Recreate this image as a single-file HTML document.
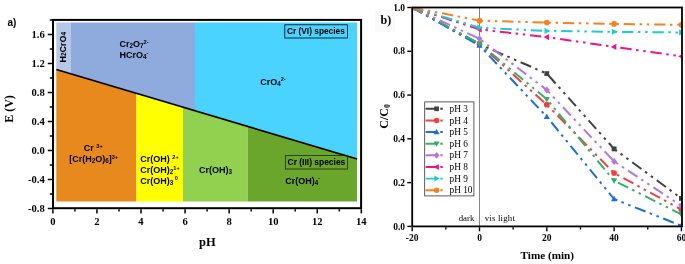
<!DOCTYPE html>
<html lang="en"><head><meta charset="utf-8"><title>Cr speciation and photoreduction</title>
<style>html,body{margin:0;padding:0;background:#fff}body{width:685px;height:264px;overflow:hidden}svg{display:block}.ser{font-family:"Liberation Serif","Times New Roman",serif}.san{font-family:"Liberation Sans",Arial,sans-serif}.b{font-weight:bold}</style></head><body>
<svg width="685" height="264" viewBox="0 0 685 264">
<rect width="685" height="264" fill="#fff"/>
<g id="panel-a">
<polygon points="56.3,22.5 71.0,22.5 71.0,73.87 56.3,69.5" fill="#b5c8e8"/>
<polygon points="71.0,22.5 195.0,22.5 195.0,110.77 71.0,73.87" fill="#8fabdd"/>
<polygon points="195.0,22.5 357.1,22.5 357.1,159.0 195.0,110.77" fill="#4bd3ff"/>
<polygon points="56.3,69.5 136.4,93.33 136.4,201.6 56.3,201.6" fill="#e8891e"/>
<polygon points="136.4,93.33 183.0,107.20 183.0,201.6 136.4,201.6" fill="#ffff00"/>
<polygon points="183.0,107.20 247.6,126.42 247.6,201.6 183.0,201.6" fill="#92d050"/>
<polygon points="247.6,126.42 357.1,159.0 357.1,201.6 247.6,201.6" fill="#6aa52c"/>
<line x1="56.3" y1="69.5" x2="357.1" y2="159.0" stroke="#000" stroke-width="1.8"/>
<rect x="53.0" y="19.9" width="308.1" height="188.29999999999998" fill="none" stroke="#000" stroke-width="2"/>
<line x1="47.8" y1="208.50" x2="52.0" y2="208.50" stroke="#000" stroke-width="1.5"/>
<text x="44.8" y="212.10" text-anchor="end" class="ser b" font-size="10.6">-0.8</text>
<line x1="49.8" y1="194.00" x2="52.0" y2="194.00" stroke="#000" stroke-width="1.5"/>
<line x1="47.8" y1="179.50" x2="52.0" y2="179.50" stroke="#000" stroke-width="1.5"/>
<text x="44.8" y="183.10" text-anchor="end" class="ser b" font-size="10.6">-0.4</text>
<line x1="49.8" y1="165.00" x2="52.0" y2="165.00" stroke="#000" stroke-width="1.5"/>
<line x1="47.8" y1="150.50" x2="52.0" y2="150.50" stroke="#000" stroke-width="1.5"/>
<text x="44.8" y="154.10" text-anchor="end" class="ser b" font-size="10.6">0.0</text>
<line x1="49.8" y1="136.00" x2="52.0" y2="136.00" stroke="#000" stroke-width="1.5"/>
<line x1="47.8" y1="121.50" x2="52.0" y2="121.50" stroke="#000" stroke-width="1.5"/>
<text x="44.8" y="125.10" text-anchor="end" class="ser b" font-size="10.6">0.4</text>
<line x1="49.8" y1="107.00" x2="52.0" y2="107.00" stroke="#000" stroke-width="1.5"/>
<line x1="47.8" y1="92.50" x2="52.0" y2="92.50" stroke="#000" stroke-width="1.5"/>
<text x="44.8" y="96.10" text-anchor="end" class="ser b" font-size="10.6">0.8</text>
<line x1="49.8" y1="78.00" x2="52.0" y2="78.00" stroke="#000" stroke-width="1.5"/>
<line x1="47.8" y1="63.50" x2="52.0" y2="63.50" stroke="#000" stroke-width="1.5"/>
<text x="44.8" y="67.10" text-anchor="end" class="ser b" font-size="10.6">1.2</text>
<line x1="49.8" y1="49.00" x2="52.0" y2="49.00" stroke="#000" stroke-width="1.5"/>
<line x1="47.8" y1="34.50" x2="52.0" y2="34.50" stroke="#000" stroke-width="1.5"/>
<text x="44.8" y="38.10" text-anchor="end" class="ser b" font-size="10.6">1.6</text>
<line x1="49.8" y1="20.00" x2="52.0" y2="20.00" stroke="#000" stroke-width="1.5"/>
<line x1="52.90" y1="209.2" x2="52.90" y2="213.4" stroke="#000" stroke-width="1.5"/>
<text x="52.90" y="224.6" text-anchor="middle" class="ser b" font-size="10.6">0</text>
<line x1="74.93" y1="209.2" x2="74.93" y2="211.4" stroke="#000" stroke-width="1.5"/>
<line x1="96.96" y1="209.2" x2="96.96" y2="213.4" stroke="#000" stroke-width="1.5"/>
<text x="96.96" y="224.6" text-anchor="middle" class="ser b" font-size="10.6">2</text>
<line x1="118.99" y1="209.2" x2="118.99" y2="211.4" stroke="#000" stroke-width="1.5"/>
<line x1="141.02" y1="209.2" x2="141.02" y2="213.4" stroke="#000" stroke-width="1.5"/>
<text x="141.02" y="224.6" text-anchor="middle" class="ser b" font-size="10.6">4</text>
<line x1="163.05" y1="209.2" x2="163.05" y2="211.4" stroke="#000" stroke-width="1.5"/>
<line x1="185.08" y1="209.2" x2="185.08" y2="213.4" stroke="#000" stroke-width="1.5"/>
<text x="185.08" y="224.6" text-anchor="middle" class="ser b" font-size="10.6">6</text>
<line x1="207.11" y1="209.2" x2="207.11" y2="211.4" stroke="#000" stroke-width="1.5"/>
<line x1="229.14" y1="209.2" x2="229.14" y2="213.4" stroke="#000" stroke-width="1.5"/>
<text x="229.14" y="224.6" text-anchor="middle" class="ser b" font-size="10.6">8</text>
<line x1="251.17" y1="209.2" x2="251.17" y2="211.4" stroke="#000" stroke-width="1.5"/>
<line x1="273.20" y1="209.2" x2="273.20" y2="213.4" stroke="#000" stroke-width="1.5"/>
<text x="273.20" y="224.6" text-anchor="middle" class="ser b" font-size="10.6">10</text>
<line x1="295.23" y1="209.2" x2="295.23" y2="211.4" stroke="#000" stroke-width="1.5"/>
<line x1="317.26" y1="209.2" x2="317.26" y2="213.4" stroke="#000" stroke-width="1.5"/>
<text x="317.26" y="224.6" text-anchor="middle" class="ser b" font-size="10.6">12</text>
<line x1="339.29" y1="209.2" x2="339.29" y2="211.4" stroke="#000" stroke-width="1.5"/>
<line x1="361.32" y1="209.2" x2="361.32" y2="213.4" stroke="#000" stroke-width="1.5"/>
<text x="361.32" y="224.6" text-anchor="middle" class="ser b" font-size="10.6">14</text>
<text x="207.3" y="245.6" text-anchor="middle" class="ser b" font-size="12.5">pH</text>
<text transform="translate(13.4,109) rotate(-90)" text-anchor="middle" class="ser b" font-size="12">E (V)</text>
<text x="7.5" y="25.8" class="san b" font-size="10">a)</text>
<text transform="translate(65.5,62.5) rotate(-90)" class="san b" font-size="9">H<tspan font-size="6.3" dy="0.9">2</tspan><tspan dy="-0.9" font-size="9">​</tspan>CrO<tspan font-size="6.3" dy="0.9">4</tspan><tspan dy="-0.9" font-size="9">​</tspan></text>
<text x="119.5" y="47.4" class="san b" font-size="9">Cr<tspan font-size="6.3" dy="0.9">2</tspan><tspan dy="-0.9" font-size="9">​</tspan>O<tspan font-size="6.3" dy="0.9">7</tspan><tspan dy="-0.9" font-size="9">​</tspan><tspan font-size="5.6" dy="-3.2">2-</tspan><tspan dy="3.2" font-size="9">​</tspan></text>
<text x="119.5" y="58.2" class="san b" font-size="9">HCrO<tspan font-size="6.3" dy="0.9">4</tspan><tspan dy="-0.9" font-size="9">​</tspan><tspan font-size="5.6" dy="-3.2">-</tspan><tspan dy="3.2" font-size="9">​</tspan></text>
<text x="260.2" y="84.6" class="san b" font-size="9">CrO<tspan font-size="6.3" dy="0.9">4</tspan><tspan dy="-0.9" font-size="9">​</tspan><tspan font-size="5.6" dy="-3.2">2-</tspan><tspan dy="3.2" font-size="9">​</tspan></text>
<text x="83.8" y="150.7" class="san b" font-size="9">Cr <tspan font-size="5.6" dy="-3.2">3+</tspan><tspan dy="3.2" font-size="9">​</tspan></text>
<text x="69.2" y="162.1" class="san b" font-size="9">[Cr(H<tspan font-size="6.3" dy="0.9">2</tspan><tspan dy="-0.9" font-size="9">​</tspan>O)<tspan font-size="6.3" dy="0.9">6</tspan><tspan dy="-0.9" font-size="9">​</tspan>]<tspan font-size="5.6" dy="-3.2">3+</tspan><tspan dy="3.2" font-size="9">​</tspan></text>
<text x="140.3" y="162.2" class="san b" font-size="9">Cr(OH) <tspan font-size="5.6" dy="-3.2">2+</tspan><tspan dy="3.2" font-size="9">​</tspan></text>
<text x="140.3" y="172.9" class="san b" font-size="9">Cr(OH)<tspan font-size="6.3" dy="0.9">2</tspan><tspan dy="-0.9" font-size="9">​</tspan><tspan font-size="5.6" dy="-3.2">1+</tspan><tspan dy="3.2" font-size="9">​</tspan></text>
<text x="140.3" y="183.6" class="san b" font-size="9">Cr(OH)<tspan font-size="6.3" dy="0.9">3</tspan><tspan dy="-0.9" font-size="9">​</tspan><tspan font-size="5.6" dy="-3.2"> 0</tspan><tspan dy="3.2" font-size="9">​</tspan></text>
<text x="199" y="172.9" class="san b" font-size="9">Cr(OH)<tspan font-size="6.3" dy="0.9">3</tspan><tspan dy="-0.9" font-size="9">​</tspan></text>
<text x="285.2" y="183.6" class="san b" font-size="9">Cr(OH)<tspan font-size="6.3" dy="0.9">4</tspan><tspan dy="-0.9" font-size="9">​</tspan><tspan font-size="5.6" dy="-3.2">-</tspan><tspan dy="3.2" font-size="9">​</tspan></text>
<rect x="284.8" y="24.8" width="62.6" height="13.2" fill="none" stroke="#000" stroke-width="0.8"/>
<text x="286.9" y="34.1" class="san b" font-size="8.35">Cr (VI) species</text>
<rect x="285.5" y="155.6" width="61.9" height="13.4" fill="none" stroke="#1c2a08" stroke-width="0.8"/>
<text x="287.6" y="164.9" class="san b" font-size="8.45">Cr (III) species</text>
</g>
<g id="panel-b">
<clipPath id="cb"><rect x="412.2" y="7.5" width="269.8" height="218.9"/></clipPath>
<line x1="479.5" y1="7.5" x2="479.5" y2="226.4" stroke="#777" stroke-width="0.9"/>
<g clip-path="url(#cb)">
<polyline points="412.20,7.50 479.50,44.28 546.80,73.61 614.10,148.91 681.40,198.38" fill="none" stroke="#414141" stroke-width="2" stroke-dasharray="11.4 4.5 2.5 4.75 2.5 4.75"/>
<rect x="409.78" y="5.08" width="4.84" height="4.84" fill="#414141"/>
<rect x="477.08" y="41.85" width="4.84" height="4.84" fill="#414141"/>
<rect x="544.38" y="71.19" width="4.84" height="4.84" fill="#414141"/>
<rect x="611.68" y="146.49" width="4.84" height="4.84" fill="#414141"/>
<rect x="678.98" y="195.96" width="4.84" height="4.84" fill="#414141"/>
<polyline points="412.20,7.50 479.50,44.28 546.80,104.69 614.10,172.99 681.40,209.54" fill="none" stroke="#f14040" stroke-width="2" stroke-dasharray="11.4 4.5 2.5 4.75 2.5 4.75"/>
<circle cx="412.20" cy="7.50" r="2.85" fill="#f14040"/>
<circle cx="479.50" cy="44.28" r="2.85" fill="#f14040"/>
<circle cx="546.80" cy="104.69" r="2.85" fill="#f14040"/>
<circle cx="614.10" cy="172.99" r="2.85" fill="#f14040"/>
<circle cx="681.40" cy="209.54" r="2.85" fill="#f14040"/>
<polyline points="412.20,7.50 479.50,45.59 546.80,116.73 614.10,199.04 681.40,225.74" fill="none" stroke="#1a6fdf" stroke-width="2" stroke-dasharray="11.4 4.5 2.5 4.75 2.5 4.75"/>
<polygon points="412.20,4.22 415.33,9.78 409.06,9.78" fill="#1a6fdf"/>
<polygon points="479.50,42.31 482.63,47.87 476.37,47.87" fill="#1a6fdf"/>
<polygon points="546.80,113.45 549.93,119.01 543.66,119.01" fill="#1a6fdf"/>
<polygon points="614.10,195.76 617.24,201.32 610.97,201.32" fill="#1a6fdf"/>
<polygon points="681.40,222.47 684.53,228.02 678.26,228.02" fill="#1a6fdf"/>
<polyline points="412.20,7.50 479.50,43.62 546.80,99.22 614.10,180.65 681.40,214.36" fill="none" stroke="#37ad6b" stroke-width="2" stroke-dasharray="11.4 4.5 2.5 4.75 2.5 4.75"/>
<polygon points="412.20,10.78 415.33,5.22 409.06,5.22" fill="#37ad6b"/>
<polygon points="479.50,46.90 482.63,41.34 476.37,41.34" fill="#37ad6b"/>
<polygon points="546.80,102.50 549.93,96.94 543.66,96.94" fill="#37ad6b"/>
<polygon points="614.10,183.93 617.24,178.37 610.97,178.37" fill="#37ad6b"/>
<polygon points="681.40,217.64 684.53,212.08 678.26,212.08" fill="#37ad6b"/>
<polyline points="412.20,7.50 479.50,38.80 546.80,90.03 614.10,161.39 681.40,205.82" fill="none" stroke="#b177de" stroke-width="2" stroke-dasharray="11.4 4.5 2.5 4.75 2.5 4.75"/>
<polygon points="412.20,3.94 415.19,7.50 412.20,11.06 409.21,7.50" fill="#b177de"/>
<polygon points="479.50,35.24 482.49,38.80 479.50,42.37 476.51,38.80" fill="#b177de"/>
<polygon points="546.80,86.46 549.79,90.03 546.80,93.59 543.81,90.03" fill="#b177de"/>
<polygon points="614.10,157.82 617.09,161.39 614.10,164.95 611.11,161.39" fill="#b177de"/>
<polygon points="681.40,202.26 684.39,205.82 681.40,209.39 678.41,205.82" fill="#b177de"/>
<polyline points="412.20,7.50 479.50,29.39 546.80,37.05 614.10,46.90 681.40,56.31" fill="none" stroke="#f0148c" stroke-width="2" stroke-dasharray="11.4 4.5 2.5 4.75 2.5 4.75"/>
<polygon points="408.92,7.50 414.48,4.37 414.48,10.63" fill="#f0148c"/>
<polygon points="476.22,29.39 481.78,26.25 481.78,32.52" fill="#f0148c"/>
<polygon points="543.52,37.05 549.08,33.92 549.08,40.19" fill="#f0148c"/>
<polygon points="610.82,46.90 616.38,43.77 616.38,50.04" fill="#f0148c"/>
<polygon points="678.12,56.31 683.68,53.18 683.68,59.45" fill="#f0148c"/>
<polyline points="412.20,7.50 479.50,27.64 546.80,30.92 614.10,31.80 681.40,32.45" fill="none" stroke="#1fcbcc" stroke-width="2" stroke-dasharray="11.4 4.5 2.5 4.75 2.5 4.75"/>
<polygon points="415.48,7.50 409.92,4.37 409.92,10.63" fill="#1fcbcc"/>
<polygon points="482.78,27.64 477.22,24.50 477.22,30.77" fill="#1fcbcc"/>
<polygon points="550.08,30.92 544.52,27.79 544.52,34.06" fill="#1fcbcc"/>
<polygon points="617.38,31.80 611.82,28.66 611.82,34.93" fill="#1fcbcc"/>
<polygon points="684.68,32.45 679.12,29.32 679.12,35.59" fill="#1fcbcc"/>
<polyline points="412.20,7.50 479.50,20.63 546.80,22.60 614.10,23.92 681.40,24.79" fill="none" stroke="#f5821f" stroke-width="2" stroke-dasharray="11.4 4.5 2.5 4.75 2.5 4.75"/>
<circle cx="412.20" cy="7.50" r="2.85" fill="#f5821f"/>
<circle cx="479.50" cy="20.63" r="2.85" fill="#f5821f"/>
<circle cx="546.80" cy="22.60" r="2.85" fill="#f5821f"/>
<circle cx="614.10" cy="23.92" r="2.85" fill="#f5821f"/>
<circle cx="681.40" cy="24.79" r="2.85" fill="#f5821f"/>
</g>
<rect x="412.2" y="7.5" width="269.8" height="218.9" fill="none" stroke="#000" stroke-width="1.8"/>
<line x1="407.3" y1="226.40" x2="411.3" y2="226.40" stroke="#000" stroke-width="1.4"/>
<text x="405" y="229.50" text-anchor="end" class="ser b" font-size="9.5">0.0</text>
<line x1="407.3" y1="182.62" x2="411.3" y2="182.62" stroke="#000" stroke-width="1.4"/>
<text x="405" y="185.72" text-anchor="end" class="ser b" font-size="9.5">0.2</text>
<line x1="407.3" y1="138.84" x2="411.3" y2="138.84" stroke="#000" stroke-width="1.4"/>
<text x="405" y="141.94" text-anchor="end" class="ser b" font-size="9.5">0.4</text>
<line x1="407.3" y1="95.06" x2="411.3" y2="95.06" stroke="#000" stroke-width="1.4"/>
<text x="405" y="98.16" text-anchor="end" class="ser b" font-size="9.5">0.6</text>
<line x1="407.3" y1="51.28" x2="411.3" y2="51.28" stroke="#000" stroke-width="1.4"/>
<text x="405" y="54.38" text-anchor="end" class="ser b" font-size="9.5">0.8</text>
<line x1="407.3" y1="7.50" x2="411.3" y2="7.50" stroke="#000" stroke-width="1.4"/>
<text x="405" y="10.60" text-anchor="end" class="ser b" font-size="9.5">1.0</text>
<line x1="412.20" y1="227.3" x2="412.20" y2="231.3" stroke="#000" stroke-width="1.4"/>
<text x="412.20" y="240.9" text-anchor="middle" class="ser b" font-size="9.5">-20</text>
<line x1="445.85" y1="227.3" x2="445.85" y2="229.5" stroke="#000" stroke-width="1.4"/>
<line x1="479.50" y1="227.3" x2="479.50" y2="231.3" stroke="#000" stroke-width="1.4"/>
<text x="479.50" y="240.9" text-anchor="middle" class="ser b" font-size="9.5">0</text>
<line x1="513.15" y1="227.3" x2="513.15" y2="229.5" stroke="#000" stroke-width="1.4"/>
<line x1="546.80" y1="227.3" x2="546.80" y2="231.3" stroke="#000" stroke-width="1.4"/>
<text x="546.80" y="240.9" text-anchor="middle" class="ser b" font-size="9.5">20</text>
<line x1="580.45" y1="227.3" x2="580.45" y2="229.5" stroke="#000" stroke-width="1.4"/>
<line x1="614.10" y1="227.3" x2="614.10" y2="231.3" stroke="#000" stroke-width="1.4"/>
<text x="614.10" y="240.9" text-anchor="middle" class="ser b" font-size="9.5">40</text>
<line x1="647.75" y1="227.3" x2="647.75" y2="229.5" stroke="#000" stroke-width="1.4"/>
<line x1="681.40" y1="227.3" x2="681.40" y2="231.3" stroke="#000" stroke-width="1.4"/>
<text x="681.40" y="240.9" text-anchor="middle" class="ser b" font-size="9.5">60</text>
<text x="547.3" y="259" text-anchor="middle" class="ser b" font-size="11.2">Time (min)</text>
<text transform="translate(387.6,116.4) rotate(-90)" text-anchor="middle" class="ser b" font-size="12">C/C<tspan font-size="7.8" dy="2.4">0</tspan></text>
<rect x="375" y="10" width="20" height="22" fill="#fafafa"/>
<text x="380.5" y="23.8" class="ser b" font-size="12">b)</text>
<text x="474.3" y="220.6" text-anchor="end" class="ser" font-size="8.8">dark</text>
<text x="484.7" y="220.6" class="ser" font-size="8.8" textLength="30.2">vis light</text>
<rect x="424.7" y="101.9" width="49.2" height="94" fill="#fff" stroke="#333" stroke-width="0.8"/>
<path d="M425.6 108.80H437M440.3 108.80H442.8" stroke="#414141" stroke-width="1.9" fill="none"/>
<rect x="434.26" y="106.46" width="4.67" height="4.67" fill="#414141"/>
<text x="449.5" y="111.90" class="ser" font-size="9.3">pH 3</text>
<path d="M425.6 120.43H437M440.3 120.43H442.8" stroke="#f14040" stroke-width="1.9" fill="none"/>
<circle cx="436.60" cy="120.43" r="2.75" fill="#f14040"/>
<text x="449.5" y="123.53" class="ser" font-size="9.3">pH 4</text>
<path d="M425.6 132.06H437M440.3 132.06H442.8" stroke="#1a6fdf" stroke-width="1.9" fill="none"/>
<polygon points="436.60,128.90 439.62,134.26 433.58,134.26" fill="#1a6fdf"/>
<text x="449.5" y="135.16" class="ser" font-size="9.3">pH 5</text>
<path d="M425.6 143.69H437M440.3 143.69H442.8" stroke="#37ad6b" stroke-width="1.9" fill="none"/>
<polygon points="436.60,146.85 439.62,141.49 433.58,141.49" fill="#37ad6b"/>
<text x="449.5" y="146.79" class="ser" font-size="9.3">pH 6</text>
<path d="M425.6 155.32H437M440.3 155.32H442.8" stroke="#b177de" stroke-width="1.9" fill="none"/>
<polygon points="436.60,151.88 439.49,155.32 436.60,158.76 433.71,155.32" fill="#b177de"/>
<text x="449.5" y="158.42" class="ser" font-size="9.3">pH 7</text>
<path d="M425.6 166.95H437M440.3 166.95H442.8" stroke="#f0148c" stroke-width="1.9" fill="none"/>
<polygon points="433.44,166.95 438.80,163.92 438.80,169.97" fill="#f0148c"/>
<text x="449.5" y="170.05" class="ser" font-size="9.3">pH 8</text>
<path d="M425.6 178.58H437M440.3 178.58H442.8" stroke="#1fcbcc" stroke-width="1.9" fill="none"/>
<polygon points="439.76,178.58 434.40,175.55 434.40,181.60" fill="#1fcbcc"/>
<text x="449.5" y="181.68" class="ser" font-size="9.3">pH 9</text>
<path d="M425.6 190.21H437M440.3 190.21H442.8" stroke="#f5821f" stroke-width="1.9" fill="none"/>
<circle cx="436.60" cy="190.21" r="2.75" fill="#f5821f"/>
<text x="449.5" y="193.31" class="ser" font-size="9.3">pH 10</text>
</g>
</svg></body></html>
